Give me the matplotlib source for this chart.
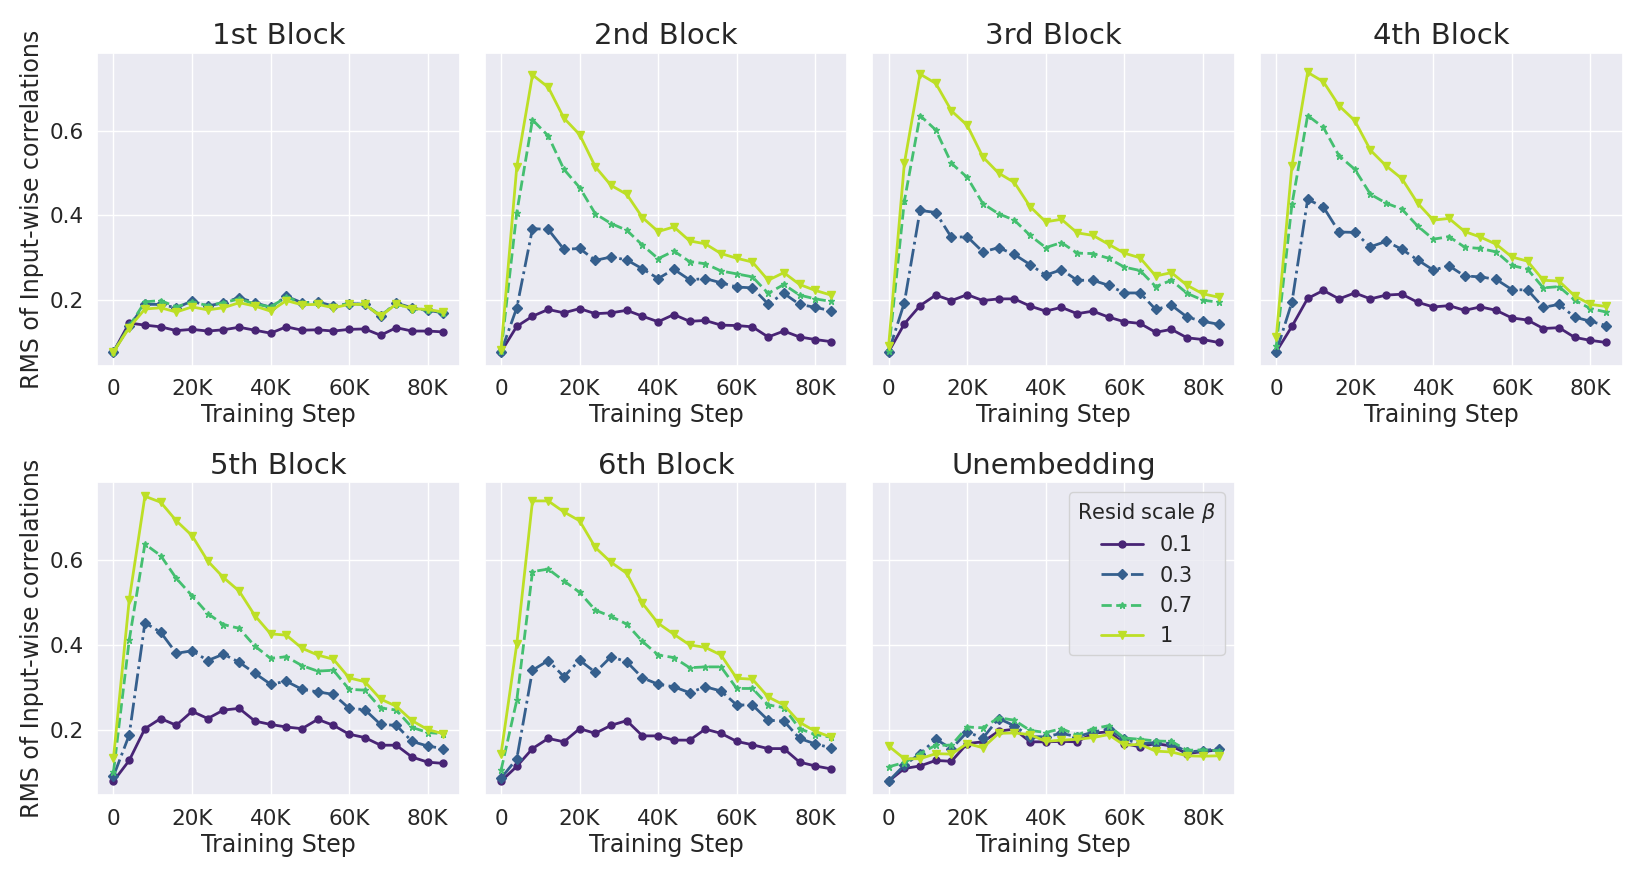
import numpy as np
import matplotlib
matplotlib.use("Agg")
import matplotlib.pyplot as plt
import seaborn as sns

steps = [i * 4000 for i in range(22)]
betas = ["0.1", "0.3", "0.7", "1"]
titles = ["1st Block", "2nd Block", "3rd Block", "4th Block", "5th Block", "6th Block", "Unembedding"]

block1 = {
    "0.1": [0.078, 0.146, 0.141, 0.137, 0.128, 0.131, 0.127, 0.130, 0.136, 0.129, 0.122, 0.137, 0.129, 0.130, 0.127, 0.131, 0.132, 0.117, 0.135, 0.127, 0.127, 0.125],
    "0.3": [0.078, 0.138, 0.190, 0.190, 0.182, 0.198, 0.186, 0.194, 0.206, 0.194, 0.183, 0.209, 0.194, 0.196, 0.186, 0.192, 0.190, 0.162, 0.193, 0.182, 0.176, 0.170],
    "0.7": [0.078, 0.138, 0.196, 0.199, 0.184, 0.196, 0.187, 0.194, 0.203, 0.191, 0.184, 0.207, 0.194, 0.194, 0.185, 0.192, 0.190, 0.164, 0.191, 0.180, 0.176, 0.170],
    "1":   [0.078, 0.135, 0.179, 0.182, 0.172, 0.184, 0.177, 0.182, 0.194, 0.186, 0.174, 0.199, 0.189, 0.190, 0.182, 0.190, 0.190, 0.162, 0.191, 0.180, 0.178, 0.172],
}
block2 = {
    "0.1": [0.078, 0.138, 0.162, 0.178, 0.170, 0.180, 0.168, 0.170, 0.176, 0.162, 0.149, 0.166, 0.150, 0.152, 0.141, 0.140, 0.137, 0.113, 0.127, 0.113, 0.107, 0.102],
    "0.3": [0.078, 0.182, 0.369, 0.367, 0.320, 0.322, 0.294, 0.302, 0.295, 0.274, 0.251, 0.273, 0.248, 0.251, 0.241, 0.231, 0.229, 0.191, 0.216, 0.190, 0.183, 0.175],
    "0.7": [0.079, 0.407, 0.626, 0.588, 0.509, 0.466, 0.404, 0.381, 0.365, 0.330, 0.298, 0.316, 0.291, 0.286, 0.269, 0.262, 0.255, 0.216, 0.237, 0.212, 0.203, 0.197],
    "1":   [0.083, 0.515, 0.732, 0.703, 0.630, 0.591, 0.515, 0.471, 0.450, 0.395, 0.362, 0.373, 0.340, 0.333, 0.310, 0.299, 0.290, 0.247, 0.265, 0.237, 0.223, 0.212],
}
block3 = {
    "0.1": [0.078, 0.144, 0.187, 0.212, 0.199, 0.213, 0.199, 0.203, 0.203, 0.186, 0.174, 0.183, 0.168, 0.174, 0.160, 0.149, 0.145, 0.124, 0.131, 0.111, 0.107, 0.100],
    "0.3": [0.078, 0.194, 0.412, 0.407, 0.348, 0.350, 0.314, 0.324, 0.308, 0.284, 0.259, 0.272, 0.247, 0.247, 0.235, 0.217, 0.217, 0.178, 0.188, 0.160, 0.150, 0.143],
    "0.7": [0.079, 0.434, 0.636, 0.602, 0.523, 0.490, 0.428, 0.404, 0.389, 0.353, 0.324, 0.336, 0.311, 0.310, 0.299, 0.278, 0.270, 0.232, 0.247, 0.216, 0.200, 0.195],
    "1":   [0.092, 0.523, 0.734, 0.712, 0.647, 0.613, 0.538, 0.500, 0.478, 0.421, 0.385, 0.391, 0.359, 0.353, 0.332, 0.311, 0.300, 0.257, 0.265, 0.235, 0.215, 0.207],
}
block4 = {
    "0.1": [0.078, 0.138, 0.204, 0.223, 0.203, 0.217, 0.203, 0.212, 0.214, 0.195, 0.184, 0.187, 0.176, 0.184, 0.176, 0.158, 0.153, 0.133, 0.135, 0.112, 0.105, 0.100],
    "0.3": [0.078, 0.195, 0.438, 0.420, 0.361, 0.360, 0.326, 0.339, 0.320, 0.295, 0.271, 0.281, 0.257, 0.255, 0.249, 0.225, 0.224, 0.183, 0.190, 0.160, 0.150, 0.140],
    "0.7": [0.091, 0.426, 0.636, 0.608, 0.541, 0.509, 0.450, 0.429, 0.415, 0.375, 0.344, 0.350, 0.325, 0.322, 0.314, 0.282, 0.273, 0.229, 0.232, 0.200, 0.180, 0.172],
    "1":   [0.112, 0.517, 0.738, 0.716, 0.659, 0.624, 0.554, 0.517, 0.487, 0.429, 0.389, 0.393, 0.362, 0.349, 0.332, 0.302, 0.292, 0.247, 0.245, 0.210, 0.190, 0.185],
}
block5 = {
    "0.1": [0.078, 0.127, 0.202, 0.226, 0.210, 0.243, 0.226, 0.246, 0.250, 0.220, 0.212, 0.206, 0.202, 0.224, 0.210, 0.189, 0.181, 0.163, 0.163, 0.135, 0.123, 0.120],
    "0.3": [0.090, 0.187, 0.452, 0.430, 0.380, 0.386, 0.363, 0.378, 0.359, 0.333, 0.307, 0.314, 0.295, 0.289, 0.283, 0.250, 0.247, 0.212, 0.210, 0.172, 0.161, 0.155],
    "0.7": [0.100, 0.411, 0.638, 0.611, 0.557, 0.516, 0.474, 0.448, 0.439, 0.397, 0.368, 0.372, 0.351, 0.338, 0.340, 0.295, 0.293, 0.251, 0.246, 0.205, 0.193, 0.190],
    "1":   [0.133, 0.506, 0.751, 0.737, 0.693, 0.658, 0.598, 0.559, 0.527, 0.469, 0.426, 0.423, 0.392, 0.376, 0.366, 0.322, 0.313, 0.272, 0.255, 0.221, 0.200, 0.190],
}
block6 = {
    "0.1": [0.078, 0.113, 0.155, 0.179, 0.171, 0.202, 0.191, 0.210, 0.221, 0.185, 0.185, 0.175, 0.175, 0.201, 0.191, 0.172, 0.164, 0.155, 0.155, 0.123, 0.114, 0.107],
    "0.3": [0.085, 0.131, 0.340, 0.363, 0.325, 0.364, 0.335, 0.372, 0.360, 0.322, 0.307, 0.301, 0.287, 0.301, 0.291, 0.258, 0.258, 0.222, 0.220, 0.179, 0.166, 0.157],
    "0.7": [0.104, 0.269, 0.573, 0.579, 0.551, 0.524, 0.482, 0.467, 0.449, 0.408, 0.376, 0.370, 0.346, 0.348, 0.348, 0.297, 0.297, 0.258, 0.252, 0.202, 0.188, 0.182],
    "1":   [0.143, 0.402, 0.740, 0.740, 0.714, 0.693, 0.630, 0.595, 0.569, 0.498, 0.451, 0.425, 0.400, 0.394, 0.376, 0.321, 0.319, 0.277, 0.258, 0.217, 0.196, 0.182],
}
unembed = {
    "0.1": [0.078, 0.108, 0.114, 0.127, 0.125, 0.167, 0.171, 0.196, 0.201, 0.171, 0.171, 0.172, 0.171, 0.191, 0.195, 0.167, 0.159, 0.167, 0.161, 0.143, 0.148, 0.152],
    "0.3": [0.078, 0.116, 0.143, 0.177, 0.155, 0.194, 0.180, 0.226, 0.209, 0.183, 0.183, 0.191, 0.183, 0.194, 0.201, 0.177, 0.167, 0.169, 0.167, 0.147, 0.150, 0.155],
    "0.7": [0.112, 0.122, 0.143, 0.163, 0.163, 0.206, 0.204, 0.228, 0.222, 0.198, 0.193, 0.202, 0.187, 0.202, 0.209, 0.180, 0.177, 0.173, 0.172, 0.151, 0.152, 0.150],
    "1":   [0.161, 0.131, 0.131, 0.143, 0.142, 0.167, 0.157, 0.191, 0.192, 0.188, 0.172, 0.175, 0.177, 0.181, 0.188, 0.163, 0.165, 0.149, 0.147, 0.138, 0.137, 0.138],
}
panels = [block1, block2, block3, block4, block5, block6, unembed]

sns.set_theme(style="darkgrid")
plt.rcParams['font.family'] = ['DejaVu Sans']

cmap = plt.get_cmap("viridis")
colors = {"0.1": cmap(0.1), "0.3": cmap(0.3), "0.7": cmap(0.7), "1": cmap(0.9)}
styles = {"0.1": "-", "0.3": "-.", "0.7": "--", "1": "-"}
markers = {"0.1": "o", "0.3": "D", "0.7": "*", "1": "v"}
msizes = {"0.1": 5, "0.3": 5.5, "0.7": 5, "1": 6}

fig, axes = plt.subplots(2, 4, figsize=(16.44, 8.77), dpi=100, sharey=True)
fig.subplots_adjust(left=0.059, right=0.987, top=0.940, bottom=0.093, wspace=0.068, hspace=0.37)
axes = axes.ravel()

for i, (ax, data, title) in enumerate(zip(axes, panels, titles)):
    for b in betas:
        ax.plot(steps, data[b], linestyle=styles[b], marker=markers[b], markersize=msizes[b],
                color=colors[b], linewidth=2, label=b)
    ax.set_title(title, fontsize=21, pad=6)
    ax.set_xlabel("Training Step", fontsize=17, labelpad=3)
    ax.set_xticks([0, 20000, 40000, 60000, 80000])
    ax.set_xticklabels(["0", "20K", "40K", "60K", "80K"])
    ax.tick_params(axis="both", labelsize=15.5)
    if i % 4 == 0:
        ax.set_ylabel("RMS of Input-wise correlations", fontsize=17)
    ax.set_yticks([0.2, 0.4, 0.6])
    if i == 6:
        leg = ax.legend(title=r"Resid scale $\beta$", fontsize=15, title_fontsize=15,
                        loc="upper right", frameon=True)

axes[7].axis("off")

fig.savefig("out.png", dpi=100)
